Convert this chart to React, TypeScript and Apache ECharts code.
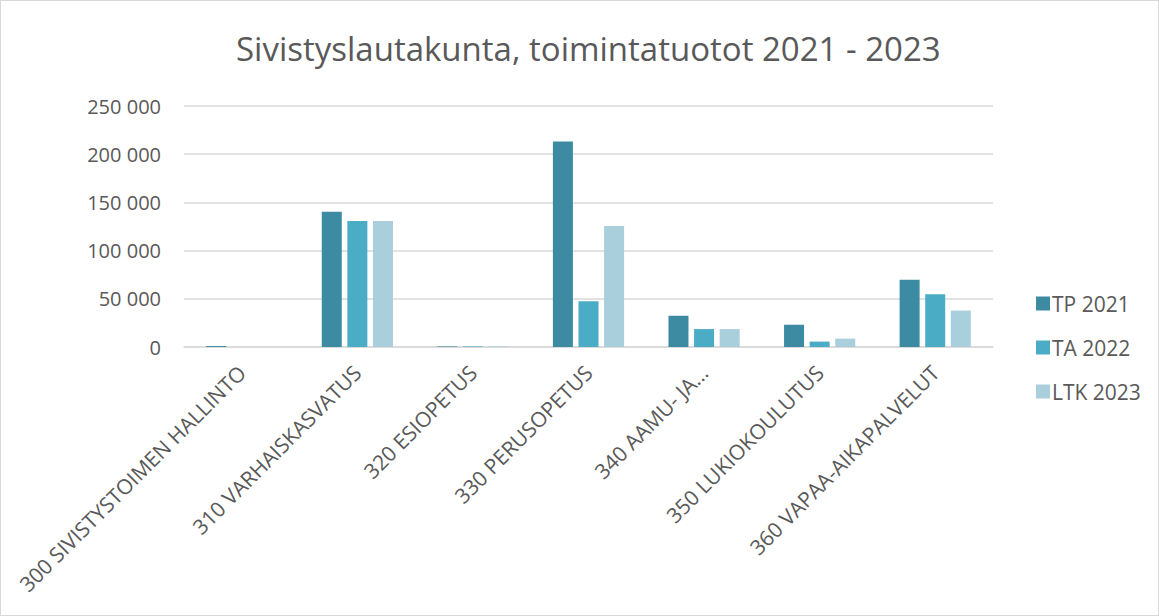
import React, { useEffect, useRef } from "react";
import * as echarts from "echarts";

const categories = [
  "300 SIVISTYSTOIMEN HALLINTO",
  "310 VARHAISKASVATUS",
  "320 ESIOPETUS",
  "330 PERUSOPETUS",
  "340 AAMU- JA...",
  "350 LUKIOKOULUTUS",
  "360 VAPAA-AIKAPALVELUT",
];
const seriesNames = ["TP 2021", "TA 2022", "LTK 2023"];
const tp2021 = [1000, 140200, 600, 213100, 32400, 23100, 69800];
const ta2022 = [0, 130600, 600, 47400, 18600, 5600, 54600];
const ltk2023 = [0, 130600, 600, 125500, 18600, 8700, 37800];
const colors = ["#3d8ba3", "#4bacc6", "#a9cfdd"];
const titleText = "Sivistyslautakunta, toimintatuotot 2021 - 2023";

const fmt = (v: number) => {
  if (v === 0) return "0";
  const s = String(Math.round(v));
  return s.replace(/\B(?=(\d{3})+(?!\d))/g, " ");
};

export default function App() {
  const ref = useRef<HTMLDivElement>(null);
  useEffect(() => {
    if (!ref.current) return;
    const chart = echarts.init(ref.current, null, { renderer: "svg" });
    const font = "'Open Sans', 'Liberation Sans', sans-serif";
    const data = [tp2021, ta2022, ltk2023];
    chart.setOption({
      animation: false,
      backgroundColor: "#ffffff",
      title: {
        text: titleText,
        left: 230,
        top: 26,
        textStyle: { fontFamily: font, fontSize: 33, fontWeight: "normal", color: "#595959" },
      },
      legend: {
        orient: "vertical",
        left: 1035,
        top: 292,
        padding: 0,
        itemWidth: 14,
        itemHeight: 14,
        itemGap: 23,
        icon: "rect",
        textStyle: { fontFamily: font, fontSize: 21, color: "#595959", padding: [0, 0, 0, -3] },
        data: seriesNames,
      },
      grid: { left: 183, right: 165, top: 105, bottom: 268, containLabel: false },
      xAxis: {
        type: "category",
        data: categories,
        axisLine: { show: true, lineStyle: { color: "#d9d9d9", width: 1.5 } },
        axisTick: { show: false },
        axisLabel: {
          rotate: 45,
          interval: 0,
          margin: 22,
          fontFamily: font,
          fontSize: 21,
          color: "#595959",
        },
      },
      yAxis: {
        type: "value",
        min: 0,
        max: 250000,
        interval: 50000,
        axisLine: { show: false },
        axisTick: { show: false },
        splitLine: { lineStyle: { color: "#d9d9d9", width: 1.5 } },
        axisLabel: {
          formatter: (v: number) => fmt(v),
          margin: 23,
          fontFamily: font,
          fontSize: 20,
          color: "#595959",
        },
      },
      series: seriesNames.map((name, i) => ({
        name,
        type: "bar",
        data: data[i],
        barWidth: 20,
        barGap: "28%",
        itemStyle: { color: colors[i] },
      })),
    });
    return () => chart.dispose();
  }, []);
  return (
    <div
      style={{
        position: "fixed",
        left: 0,
        top: 0,
        width: 1159,
        height: 616,
        boxSizing: "border-box",
        border: "1px solid #d9d9d9",
        background: "#fff",
      }}
    >
      <div ref={ref} style={{ width: 1157, height: 614 }} />
    </div>
  );
}
